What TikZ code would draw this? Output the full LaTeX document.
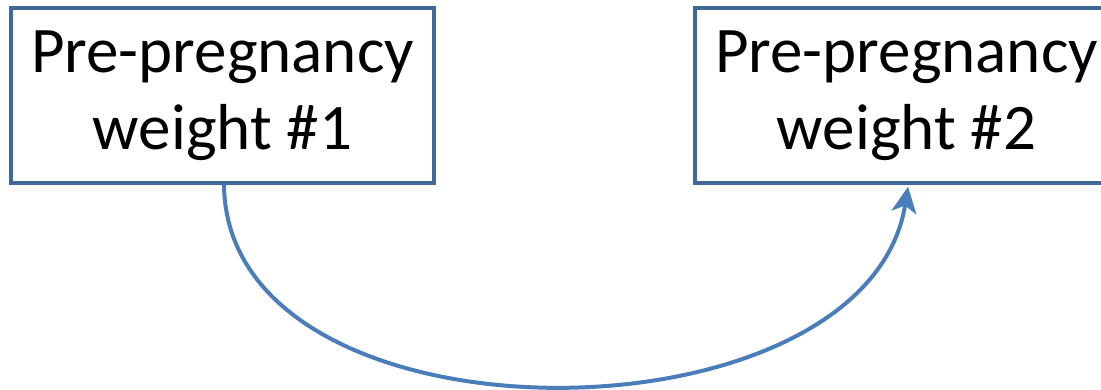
\documentclass[tikz,border=0pt]{standalone}
\usepackage{fontspec}
\setmainfont{Carlito}
\usetikzlibrary{arrows.meta,calc}
\definecolor{boxblue}{HTML}{41689B}
\definecolor{curveblue}{HTML}{4A7EBB}
\tikzset{
  wbox/.style={draw=boxblue, line width=3.5pt, minimum width=423pt, minimum height=175pt,
    inner sep=0pt, align=center, font=\fontsize{65}{77}\selectfont},
  conn/.style={draw=curveblue, line width=4pt,
    -{Stealth[length=26pt,width=25pt,inset=7pt]}}
}
\begin{document}
\begin{tikzpicture}[x=1pt,y=1pt]
\useasboundingbox (0,0) rectangle (1101,390);
\begin{scope}
\clip (0,0) rectangle (1101,390);
\node[wbox] (a) at (222.5,294.5) {Pre-pregnancy\\weight \#1};
\node[wbox] (b) at (906.5,294.5) {Pre-pregnancy\\weight \#2};
\draw[conn] ($(a.south)+(1.5,0)$) .. controls ($(a.south)+(4,-270)$) and ($(b.south)+(-40,-265)$) .. ($(b.south)+(1.5,-2)$);
\end{scope}
\end{tikzpicture}
\end{document}
